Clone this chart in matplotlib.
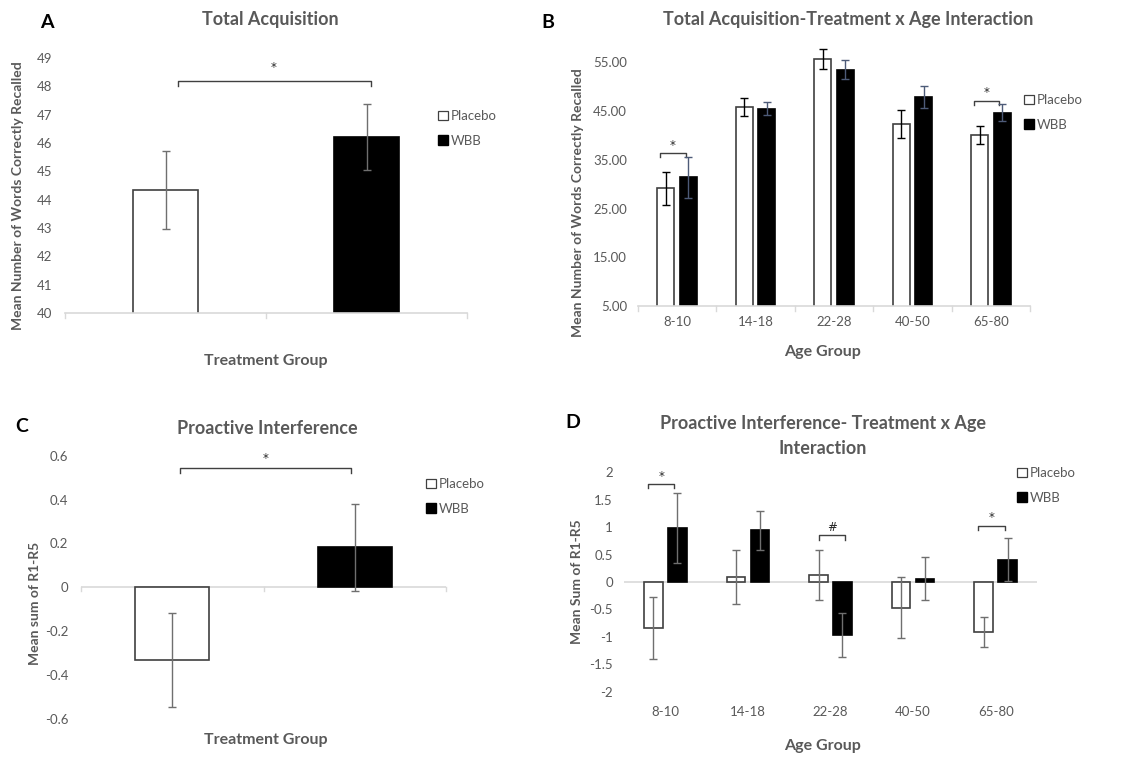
"""
Four-panel bar figure: total acquisition and proactive interference,
overall and split by age group (Placebo vs WBB).
"""
import matplotlib
matplotlib.use("Agg")
import matplotlib.pyplot as plt
from matplotlib.patches import Patch
import numpy as np

plt.rcParams["font.family"] = ["Lato", "DejaVu Sans"]

GRAY_TXT = "#595959"
AXIS_LINE = "#d9d9d9"
BAR_EDGE = "#404040"

treatments = ["Placebo", "WBB"]
age_groups = ["8-10", "14-18", "22-28", "40-50", "65-80"]

# panel A
acq_means = [44.35, 46.2]
acq_err = [1.37, 1.17]

# panel B
acq_age_placebo = [29.2, 45.8, 55.7, 42.3, 40.1]
acq_age_placebo_err = [3.4, 1.8, 2.1, 2.9, 1.8]
acq_age_wbb = [31.4, 45.5, 53.5, 47.9, 44.7]
acq_age_wbb_err = [4.2, 1.3, 2.0, 2.3, 1.8]

# panel C
pi_means = [-0.33, 0.182]
pi_err = [0.215, 0.2]

# panel D
pi_age_placebo = [-0.84, 0.09, 0.13, -0.47, -0.91]
pi_age_placebo_err = [0.57, 0.49, 0.46, 0.56, 0.27]
pi_age_wbb = [0.985, 0.94, -0.96, 0.06, 0.41]
pi_age_wbb_err = [0.63, 0.36, 0.40, 0.39, 0.39]

W, H = 1132, 758
fig = plt.figure(figsize=(W / 100, H / 100), dpi=100)


def px_axes(left, right, top, bottom):
    return fig.add_axes([left / W, 1 - bottom / H, (right - left) / W, (bottom - top) / H])


def fx(x):
    return x / W


def fy(y):
    return 1 - y / H


def style(ax, fmt=None):
    for s in ["top", "right", "left", "bottom"]:
        ax.spines[s].set_visible(False)
    ax.tick_params(axis="y", length=0, pad=9, labelsize=9.5, labelcolor=GRAY_TXT)
    if fmt:
        ax.yaxis.set_major_formatter(plt.FuncFormatter(fmt))


def bracket(ax, x0, x1, y, drop, ys, mark="*", color="#404040"):
    ax.plot([x0, x0, x1, x1], [y - drop, y, y, y - drop], color=color, lw=1.0, clip_on=False)
    ax.text((x0 + x1) / 2, ys, mark, ha="center", va="center", fontsize=8.5, color="#262626",
            family="DejaVu Sans", clip_on=False)


def legend(ax, x, y):
    handles = [Patch(facecolor="white", edgecolor="#404040", lw=0.9, label="Placebo"),
               Patch(facecolor="black", edgecolor="black", label="WBB")]
    leg = ax.legend(handles=handles, loc="upper left", bbox_to_anchor=(fx(x), fy(y)),
                    bbox_transform=fig.transFigure, frameon=False, fontsize=9.5,
                    handlelength=0.75, handleheight=0.75, handletextpad=0.2,
                    labelspacing=0.95, borderpad=0, borderaxespad=0)
    for t in leg.get_texts():
        t.set_color(GRAY_TXT)


def label(x, y, s, size=12.5, color=GRAY_TXT, rot=0, weight="bold"):
    fig.text(fx(x), fy(y), s, ha="center", va="center", fontsize=size, color=color,
             rotation=rot, fontweight=weight)


# ---------- A ----------
ax = px_axes(65, 467, 58, 313)
x = np.arange(2)
ax.bar(x, acq_means, 0.32, color=["white", "black"], edgecolor=[BAR_EDGE, "black"], lw=1.2, zorder=2)
ax.errorbar(x, acq_means, yerr=acq_err, fmt="none", ecolor="#6f6f6f", elinewidth=1, capsize=3, zorder=3)
ax.set_xlim(-0.5, 1.5); ax.set_ylim(40, 49)
ax.set_yticks(range(40, 50))
style(ax)
ax.set_xticks([])
ax.axhline(40, color=AXIS_LINE, lw=1.2, clip_on=False)
for xt in [-0.5, 0.5, 1.5]:
    ax.plot([xt, xt], [40, 39.82], color=AXIS_LINE, lw=1, clip_on=False)
bracket(ax, 0.06, 1.02, 48.2, 0.2, 48.68)
legend(ax, 438, 110)
label(270, 20, "Total Acquisition", 13)
label(47, 22, "A", 14, "black")
label(18, 196, "Mean Number of Words Correctly Recalled", 10, rot=90)
label(266, 361, "Treatment Group", 11.5)

# ---------- B ----------
ax = px_axes(638, 1030, 38, 306)
x = np.arange(len(age_groups))
off, bw = 0.144, 0.217
ax.bar(x - off, acq_age_placebo, bw, color="white", edgecolor=BAR_EDGE, lw=1.2, zorder=2)
ax.bar(x + off, acq_age_wbb, bw, color="black", edgecolor="black", lw=1.2, zorder=2)
ax.errorbar(x - off, acq_age_placebo, yerr=acq_age_placebo_err, fmt="none", ecolor="black",
            elinewidth=1, capsize=3, zorder=3)
ax.errorbar(x + off, acq_age_wbb, yerr=acq_age_wbb_err, fmt="none", ecolor="#4d5b78",
            elinewidth=1, capsize=3, zorder=3)
ax.set_xlim(-0.5, 4.5); ax.set_ylim(5, 60)
ax.set_yticks(range(5, 56, 10))
style(ax, lambda v, p: f"{v:.2f}")
ax.tick_params(axis="y", pad=8)
ax.set_xticks(x); ax.set_xticklabels(age_groups)
ax.tick_params(axis="x", length=0, pad=7, labelsize=9.5, labelcolor=GRAY_TXT)
ax.axhline(5, color=AXIS_LINE, lw=1.2, clip_on=False)
for xt in np.arange(-0.5, 5, 1):
    ax.plot([xt, xt], [5, 4.0], color=AXIS_LINE, lw=1, clip_on=False)
bracket(ax, -0.22, 0.11, 36.4, 0.9, 37.9)
bracket(ax, 3.78, 4.10, 47.15, 0.9, 48.8)
legend(ax, 1024, 94)
label(848, 20, "Total Acquisition-Treatment x Age Interaction", 13)
label(548, 22, "B", 14, "black")
label(578, 203, "Mean Number of Words Correctly Recalled", 10, rot=90)
label(823, 352, "Age Group", 11.5)

# ---------- C ----------
ax = px_axes(81, 446, 455.7, 719)
x = np.arange(2)
ax.bar(x, pi_means, 0.405, color=["white", "black"], edgecolor=[BAR_EDGE, "black"], lw=1.2, zorder=2)
ax.errorbar(x, pi_means, yerr=pi_err, fmt="none", ecolor="#6f6f6f", elinewidth=1, capsize=3, zorder=3)
ax.set_xlim(-0.5, 1.5); ax.set_ylim(-0.6, 0.6)
ax.set_yticks(np.arange(-0.6, 0.61, 0.2))
style(ax, lambda v, p: "0" if abs(v) < 1e-9 else f"{v:.1f}")
ax.set_xticks([])
ax.axhline(0, color=AXIS_LINE, lw=1.2, zorder=1)
for xt in [-0.5, 0.5, 1.5]:
    ax.plot([xt, xt], [0, -0.015], color=AXIS_LINE, lw=1, clip_on=False)
bracket(ax, 0.04, 0.98, 0.546, 0.025, 0.585)
legend(ax, 426, 478)
label(267, 428, "Proactive Interference", 13)
label(22, 427, "C", 14, "black")
label(35, 603, "Mean sum of R1-R5", 10, rot=90)
label(266, 740, "Treatment Group", 11.5)

# ---------- D ----------
ax = px_axes(624, 1037, 472.3, 691.7)
x = np.arange(len(age_groups))
off, bw = 0.145, 0.224
ax.bar(x - off, pi_age_placebo, bw, color="white", edgecolor=BAR_EDGE, lw=1.2, zorder=2)
ax.bar(x + off, pi_age_wbb, bw, color="black", edgecolor="black", lw=1.2, zorder=2)
ax.errorbar(x - off, pi_age_placebo, yerr=pi_age_placebo_err, fmt="none", ecolor="#6f6f6f",
            elinewidth=1, capsize=3, zorder=3)
ax.errorbar(x + off, pi_age_wbb, yerr=pi_age_wbb_err, fmt="none", ecolor="#6f6f6f",
            elinewidth=1, capsize=3, zorder=3)
ax.set_xlim(-0.5, 4.5); ax.set_ylim(-2, 2)
ax.set_yticks(np.arange(-2, 2.01, 0.5))
style(ax, lambda v, p: f"{v:g}")
ax.tick_params(axis="y", pad=8)
ax.set_xticks(x); ax.set_xticklabels(age_groups)
ax.tick_params(axis="x", length=0, pad=10, labelsize=9.5, labelcolor=GRAY_TXT)
ax.axhline(0, color=AXIS_LINE, lw=1.2, zorder=1)
bracket(ax, -0.21, 0.11, 1.79, 0.08, 1.93)
bracket(ax, 1.86, 2.17, 0.85, 0.08, 0.985, mark="#")
bracket(ax, 3.79, 4.11, 1.03, 0.08, 1.18)
legend(ax, 1017, 467)
label(823, 423, "Proactive Interference- Treatment x Age", 13)
label(823, 449, "Interaction", 13)
label(573, 422, "D", 14, "black")
label(577, 582, "Mean Sum of R1-R5", 10, rot=90)
label(823, 746, "Age Group", 11.5)

fig.savefig("out.png", dpi=100, facecolor="white")
